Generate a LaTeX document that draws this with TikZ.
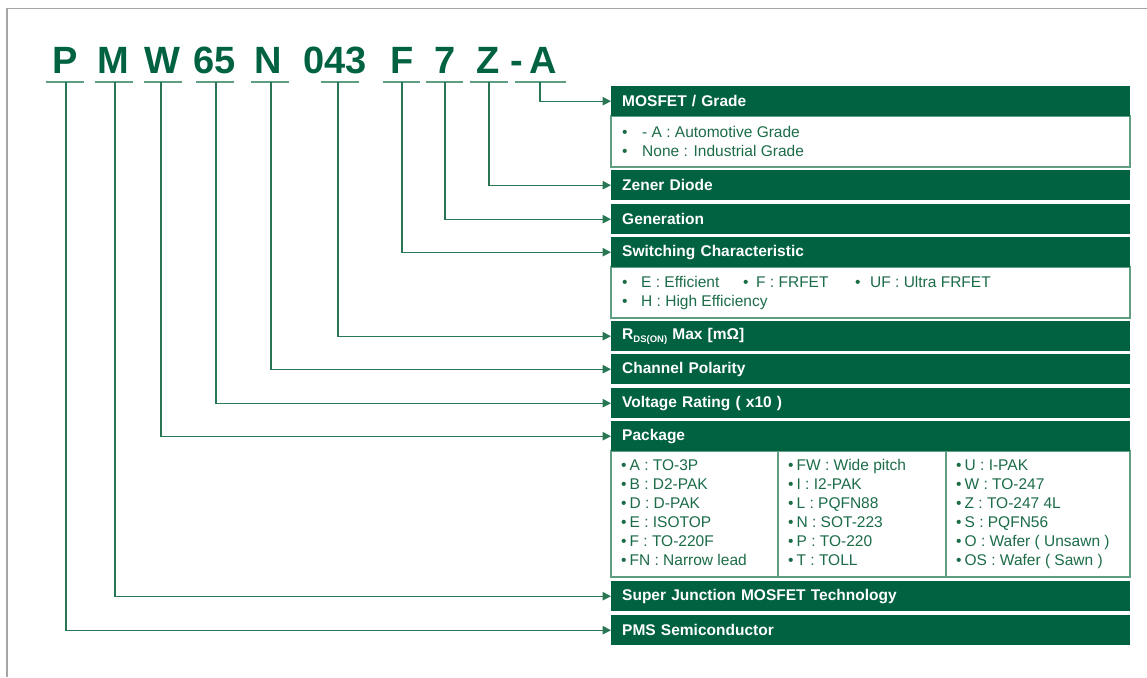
\documentclass[tikz,border=0pt]{standalone}
\usepackage{fontspec}
\setmainfont{Liberation Sans}
\usetikzlibrary{arrows.meta}
\definecolor{pmsgreen}{RGB}{0,98,65}
\definecolor{txtgreen}{RGB}{28,108,72}
\definecolor{linegreen}{RGB}{40,118,84}
\definecolor{boxline}{RGB}{95,158,128}
\definecolor{framegray}{RGB}{165,165,165}
\begin{document}
\begin{tikzpicture}[x=1pt,y=-1pt,
  hdr/.style={fill=pmsgreen, draw=none, anchor=north west, minimum width=519pt, minimum height=30pt, text width=497pt, inner xsep=11pt, inner ysep=0pt, align=left, text=white, font=\fontsize{15.5}{18}\selectfont\bfseries},
  cbox/.style={draw=boxline, line width=1.3pt, fill=white},
  ctext/.style={anchor=base west, inner sep=0pt, text=txtgreen, font=\fontsize{15.5}{18}\selectfont},
  letter/.style={anchor=base, inner sep=0pt, text=pmsgreen, font=\fontsize{38}{40}\selectfont\bfseries},
  uline/.style={draw=boxline, line width=1.6pt},
  conn/.style={draw=linegreen, line width=1.1pt, -{Triangle[length=8.5pt,width=8.5pt]}},
  framel/.style={draw=framegray, line width=1.4pt},
]
\useasboundingbox (0,0) rectangle (1147,677);
% frame
\draw[framel] (7,677) -- (7,8.5) -- (1147,8.5);

% part number letters
\node[letter] (lP) at (65,73) {P};
\node[letter] (lM) at (113,73) {M};
\node[letter] (lW) at (162,73) {W};
\node[letter] (l65) at (215,73) {65};
\node[letter] (lN) at (268,73) {N};
\node[letter] (l043) at (335,73) {043};
\node[letter] (lF) at (402,73) {F};
\node[letter] (l7) at (445,73) {7};
\node[letter] (lZ) at (488,73) {Z};
\node[letter] (ldash) at (517,73) {-};
\node[letter] (lA) at (543,73) {A};

% underlines
\draw[uline] (46,82) -- (84,82);
\draw[uline] (95,82) -- (133,82);
\draw[uline] (143.5,82) -- (182,82);
\draw[uline] (196,82) -- (234,82);
\draw[uline] (251,82) -- (289,82);
\draw[uline] (321,82) -- (359,82);
\draw[uline] (383,82) -- (420,82);
\draw[uline] (426,82) -- (463,82);
\draw[uline] (470,82) -- (508,82);
\draw[uline] (515,82) -- (566,82);

\coordinate (cP) at (66,82);
\coordinate (cM) at (115,82);
\coordinate (cW) at (161,82);
\coordinate (c65) at (216,82);
\coordinate (cN) at (271,82);
\coordinate (c043) at (338,82);
\coordinate (cF) at (402,82);
\coordinate (c7) at (445,82);
\coordinate (cZ) at (489,82);
\coordinate (cA) at (540,82);

% content boxes
\draw[cbox] (611,116) rectangle (1130,167);
\draw[cbox] (611,267) rectangle (1130,318);
\draw[cbox] (611,451) rectangle (1130,577);
\draw[draw=boxline, line width=1.3pt] (778,451) -- (778,577);
\draw[draw=boxline, line width=1.3pt] (946,451) -- (946,577);

% headers
\node[hdr] (hMOS) at (611,86) {MOSFET / Grade};
\node[hdr] (hZen) at (611,170) {Zener Diode};
\node[hdr] (hGen) at (611,204) {Generation};
\node[hdr] (hSw) at (611,237) {Switching Characteristic};
\node[hdr] (hRds) at (611,321) {R\raisebox{-2.5pt}{\fontsize{9.5}{10}\selectfont DS(ON)} Max [mΩ]};
\node[hdr] (hCh) at (611,354) {Channel Polarity};
\node[hdr] (hVolt) at (611,388) {Voltage Rating ( x10 )};
\node[hdr] (hPkg) at (611,421) {Package};
\node[hdr] (hSJ) at (611,581) {Super Junction MOSFET Technology};
\node[hdr] (hPMS) at (611,615) {PMS Semiconductor};

% content texts
\node[ctext] (m1b) at (622,137.5) {•};
\node[ctext] (m1) at (642,137.5) {- A : Automotive Grade};
\node[ctext] (m2b) at (622,156.5) {•};
\node[ctext] (m2) at (642,156.5) {None : Industrial Grade};

\node[ctext] (s1b) at (622,287.5) {•};
\node[ctext] (s1) at (641,287.5) {E : Efficient};
\node[ctext] (s2b) at (743,287.5) {•};
\node[ctext] (s2) at (756,287.5) {F : FRFET};
\node[ctext] (s3b) at (855,287.5) {•};
\node[ctext] (s3) at (870,287.5) {UF : Ultra FRFET};
\node[ctext] (s4b) at (622,306.5) {•};
\node[ctext] (s4) at (641,306.5) {H : High Efficiency};

\node[ctext] (p11) at (621,470.5) {•\hspace{3pt}A : TO-3P};
\node[ctext] (p12) at (621,489.5) {•\hspace{3pt}B : D2-PAK};
\node[ctext] (p13) at (621,508.5) {•\hspace{3pt}D : D-PAK};
\node[ctext] (p14) at (621,527.5) {•\hspace{3pt}E : ISOTOP};
\node[ctext] (p15) at (621,546.5) {•\hspace{3pt}F : TO-220F};
\node[ctext] (p16) at (621,565.5) {•\hspace{3pt}FN : Narrow lead};

\node[ctext] (p21) at (788,470.5) {•\hspace{3pt}FW : Wide pitch};
\node[ctext] (p22) at (788,489.5) {•\hspace{3pt}I : I2-PAK};
\node[ctext] (p23) at (788,508.5) {•\hspace{3pt}L : PQFN88};
\node[ctext] (p24) at (788,527.5) {•\hspace{3pt}N : SOT-223};
\node[ctext] (p25) at (788,546.5) {•\hspace{3pt}P : TO-220};
\node[ctext] (p26) at (788,565.5) {•\hspace{3pt}T : TOLL};

\node[ctext] (p31) at (956,470.5) {•\hspace{3pt}U : I-PAK};
\node[ctext] (p32) at (956,489.5) {•\hspace{3pt}W : TO-247};
\node[ctext] (p33) at (956,508.5) {•\hspace{3pt}Z : TO-247 4L};
\node[ctext] (p34) at (956,527.5) {•\hspace{3pt}S : PQFN56};
\node[ctext] (p35) at (956,546.5) {•\hspace{3pt}O : Wafer ( Unsawn )};
\node[ctext] (p36) at (956,565.5) {•\hspace{3pt}OS : Wafer ( Sawn )};

% connectors
\draw[conn] (cA) |- (hMOS.west);
\draw[conn] (cZ) |- (hZen.west);
\draw[conn] (c7) |- (hGen.west);
\draw[conn] (cF) |- (hSw.west);
\draw[conn] (c043) |- (hRds.west);
\draw[conn] (cN) |- (hCh.west);
\draw[conn] (c65) |- (hVolt.west);
\draw[conn] (cW) |- (hPkg.west);
\draw[conn] (cM) |- (hSJ.west);
\draw[conn] (cP) |- (hPMS.west);
\end{tikzpicture}
\end{document}
